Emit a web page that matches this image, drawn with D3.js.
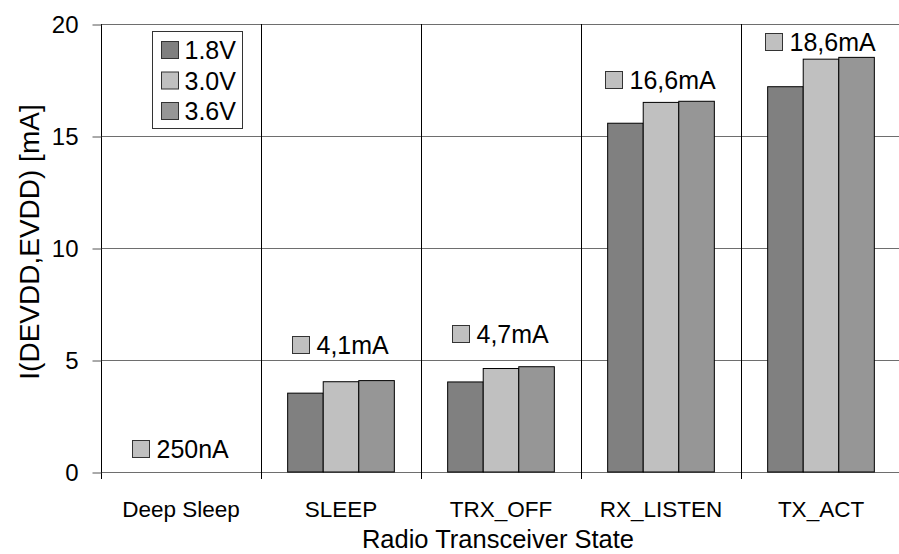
<!DOCTYPE html>
<html>
<head>
<meta charset="utf-8">
<script src="https://cdn.jsdelivr.net/npm/d3@7"></script>
<style>
  body { margin: 0; background: #fff; }
  svg { display: block; font-family: "Liberation Sans", Arial, sans-serif; }
</style>
</head>
<body>
<div id="chart"></div>
<script>
/* Chart values */
const categories = ["Deep Sleep", "SLEEP", "TRX_OFF", "RX_LISTEN", "TX_ACT"];
const seriesNames = ["1.8V", "3.0V", "3.6V"];
const values18 = [0, 3.52, 4.02, 15.57, 17.2];
const values30 = [0, 4.03, 4.62, 16.5, 18.43];
const values36 = [0, 4.08, 4.7, 16.55, 18.51];
const yTicks = [0, 5, 10, 15, 20];
// typical current labels shown above each group, with their height in mA
const noteLabels = ["250nA", "4,1mA", "4,7mA", "16,6mA", "18,6mA"];
const noteLevels = [1.05, 5.67, 6.18, 17.54, 19.24];

const seriesValues = [values18, values30, values36];
const colors = d3.scaleOrdinal()
  .domain(seriesNames)
  .range(["#808080", "#c0c0c0", "#969696"]);

const width = 899, height = 554;
const margins = {top: 24, right: -2, bottom: 82, left: 101};

const svg = d3.select("#chart")
  .append("svg")
  .attr("width", width)
  .attr("height", height);

/* Scales */
const xScale = d3.scaleBand()
  .domain(categories)
  .range([margins.left, width - margins.right]);

const xSub = d3.scaleBand()
  .domain(seriesNames)
  .range([0, xScale.bandwidth()])
  .paddingOuter(0.75);

const yScale = d3.scaleLinear()
  .domain([0, 20])
  .range([height - margins.bottom, margins.top]);

const x0 = xScale.range()[0], x1 = xScale.range()[1];
const yBottom = yScale(0);

/* Horizontal gridlines */
svg.append("g")
  .selectAll("line")
  .data(yTicks)
  .join("line")
    .attr("x1", x0)
    .attr("x2", x1)
    .attr("y1", d => Math.round(yScale(d)) + 0.5)
    .attr("y2", d => Math.round(yScale(d)) + 0.5)
    .style("stroke", "#6e6e6e")
    .style("stroke-width", 1);

/* Category separators (and the tick marks below the axis) */
svg.append("g")
  .selectAll("line")
  .data(categories)
  .join("line")
    .attr("x1", d => Math.round(xScale(d)) + 0.5)
    .attr("x2", d => Math.round(xScale(d)) + 0.5)
    .attr("y1", yScale(20))
    .attr("y2", yBottom + 7)
    .style("stroke", "#000")
    .style("stroke-width", 1);

/* Bars */
const rows = [];
categories.forEach((c, i) => {
  seriesNames.forEach((s, j) => {
    rows.push({category: c, series: s, value: seriesValues[j][i]});
  });
});

svg.append("g")
  .selectAll("rect")
  .data(rows.filter(d => d.value > 0))
  .join("rect")
    .attr("x", d => xScale(d.category) + xSub(d.series))
    .attr("y", d => yScale(d.value))
    .attr("width", xSub.bandwidth())
    .attr("height", d => yBottom - yScale(d.value))
    .style("fill", d => colors(d.series))
    .style("stroke", "#000")
    .style("stroke-width", 1);

/* Y axis */
const yAxis = d3.axisLeft(yScale)
  .tickValues(yTicks)
  .tickSizeInner(9)
  .tickSizeOuter(0)
  .tickPadding(14);

const yGroup = svg.append("g")
  .attr("transform", `translate(${x0 + 0.5}, 0.5)`)
  .call(yAxis);
yGroup.select(".domain").remove();
yGroup.selectAll("line").style("stroke", "#555");
yGroup.selectAll("text")
  .style("font-size", "24px")
  .style("fill", "#000");

// Y axis label
svg.append("text")
  .attr("transform", "translate(39, 242) rotate(-90)")
  .style("text-anchor", "middle")
  .style("font-size", "28px")
  .text("I(DEVDD,EVDD) [mA]");

/* X axis: category names under each band */
const xAxis = d3.axisBottom(xScale).tickSize(0).tickPadding(0);
const xGroup = svg.append("g")
  .attr("transform", `translate(0, ${yBottom})`)
  .call(xAxis);
xGroup.select(".domain").remove();
xGroup.selectAll("text")
  .attr("y", 45)
  .attr("dy", 0)
  .style("font-size", "22.5px")
  .style("fill", "#000");

// X axis label
svg.append("text")
  .attr("x", (x0 + x1) / 2 - 3)
  .attr("y", 548)
  .style("text-anchor", "middle")
  .style("font-size", "25.5px")
  .text("Radio Transceiver State");

/* Notes above each group: a small key plus the typical current */
const notes = svg.append("g")
  .selectAll("g")
  .data(categories.map((c, i) => ({category: c, label: noteLabels[i], level: noteLevels[i]})))
  .join("g");

notes.append("rect")
  .attr("width", 17)
  .attr("height", 17)
  .style("fill", colors("3.0V"))
  .style("stroke", "#333")
  .style("stroke-width", 1);

notes.append("text")
  .attr("x", 24)
  .attr("y", 8.5 + 9)
  .style("font-size", "25px")
  .text(d => d.label);

notes.attr("transform", function(d) {
  const total = 24 + d3.select(this).select("text").node().getComputedTextLength();
  const cx = xScale(d.category) + xScale.bandwidth() / 2 - 1;
  return `translate(${Math.round(cx - total / 2) + 0.5}, ${Math.round(yScale(d.level) - 8.5) + 0.5})`;
});

/* Legend */
const legend = svg.append("g")
  .attr("transform", "translate(152.5, 31.5)");

legend.append("rect")
  .attr("width", 90)
  .attr("height", 97)
  .style("fill", "#fff")
  .style("stroke", "#333")
  .style("stroke-width", 1);

const legendItems = legend.selectAll("g")
  .data(seriesNames)
  .join("g")
    .attr("transform", (d, i) => `translate(9, ${10 + i * 30.5})`);

legendItems.append("rect")
  .attr("width", 17)
  .attr("height", 17)
  .style("fill", d => colors(d))
  .style("stroke", "#333")
  .style("stroke-width", 1);

legendItems.append("text")
  .attr("x", 23)
  .attr("y", 8.5 + 9)
  .style("font-size", "25px")
  .text(d => d);
</script>
</body>
</html>
